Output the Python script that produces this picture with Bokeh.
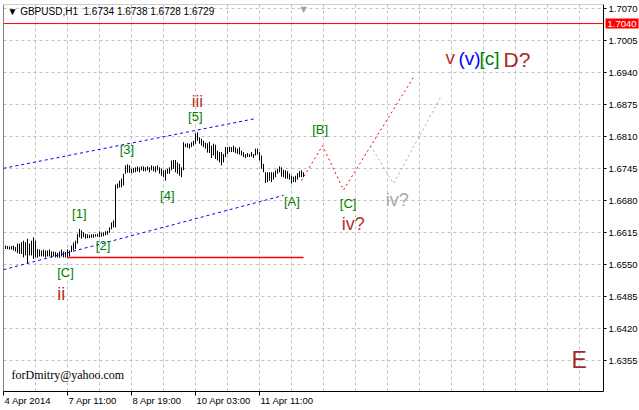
from bokeh.plotting import figure
from bokeh.models import Range1d, FixedTicker, PrintfTickFormatter, Label, Span, ColumnDataSource
from bokeh.embed import file_html
from bokeh.resources import INLINE

# ---------------- data ----------------
title_text = "\u25BC GBPUSD,H1\u00a0 1.6734 1.6738 1.6728 1.6729"

bar_high = [1.6589, 1.6588, 1.6587, 1.6588, 1.6589, 1.6586, 1.6593, 1.6593, 1.6596, 1.6599,
            1.6596, 1.6603, 1.6593, 1.6599, 1.6606, 1.6599, 1.6582, 1.6581, 1.6579, 1.6581,
            1.6579, 1.6579, 1.6581, 1.6577, 1.6577, 1.6576, 1.6574, 1.6577, 1.6581, 1.6577,
            1.6576, 1.6581, 1.6579, 1.6589, 1.6595, 1.6599, 1.6613, 1.6623, 1.6620, 1.6616,
            1.6613, 1.6612, 1.6611, 1.6612, 1.6612, 1.6612, 1.6613, 1.6618, 1.6615, 1.6616,
            1.6618, 1.6619, 1.6626, 1.6636, 1.6640, 1.6713, 1.6715, 1.6721, 1.6725, 1.6735,
            1.6752, 1.6754, 1.6752, 1.6745, 1.6747, 1.6748, 1.6750, 1.6748, 1.6750, 1.6750,
            1.6748, 1.6750, 1.6748, 1.6752, 1.6750, 1.6750, 1.6752, 1.6748, 1.6745, 1.6742,
            1.6743, 1.6745, 1.6748, 1.6762, 1.6763, 1.6763, 1.6758, 1.6755, 1.6748, 1.6799,
            1.6796, 1.6797, 1.6796, 1.6799, 1.6802, 1.6817, 1.6819, 1.6809, 1.6806, 1.6802,
            1.6798, 1.6797, 1.6800, 1.6792, 1.6796, 1.6794, 1.6782, 1.6779, 1.6779, 1.6775,
            1.6789, 1.6789, 1.6790, 1.6789, 1.6792, 1.6789, 1.6786, 1.6789, 1.6782, 1.6779,
            1.6775, 1.6777, 1.6775, 1.6779, 1.6775, 1.6786, 1.6786, 1.6779, 1.6772, 1.6755,
            1.6738, 1.6738, 1.6738, 1.6738, 1.6738, 1.6742, 1.6745, 1.6750, 1.6748, 1.6743,
            1.6742, 1.6740, 1.6735, 1.6731, 1.6729, 1.6731, 1.6736, 1.6740, 1.6742, 1.6738]
bar_low = [1.6582, 1.6582, 1.6581, 1.6581, 1.6579, 1.6577, 1.6574, 1.6572, 1.6572, 1.6565,
           1.6569, 1.6552, 1.6569, 1.6569, 1.6562, 1.6565, 1.6565, 1.6567, 1.6567, 1.6567,
           1.6565, 1.6567, 1.6567, 1.6565, 1.6567, 1.6565, 1.6565, 1.6564, 1.6567, 1.6565,
           1.6565, 1.6565, 1.6567, 1.6576, 1.6579, 1.6582, 1.6593, 1.6606, 1.6603, 1.6606,
           1.6603, 1.6604, 1.6604, 1.6605, 1.6605, 1.6607, 1.6607, 1.6606, 1.6607, 1.6608,
           1.6610, 1.6611, 1.6615, 1.6622, 1.6626, 1.6626, 1.6705, 1.6707, 1.6707, 1.6711,
           1.6735, 1.6737, 1.6737, 1.6736, 1.6737, 1.6738, 1.6740, 1.6738, 1.6742, 1.6740,
           1.6740, 1.6742, 1.6738, 1.6742, 1.6740, 1.6738, 1.6742, 1.6735, 1.6731, 1.6728,
           1.6721, 1.6735, 1.6735, 1.6742, 1.6745, 1.6738, 1.6735, 1.6731, 1.6728, 1.6742,
           1.6789, 1.6788, 1.6786, 1.6789, 1.6792, 1.6796, 1.6802, 1.6796, 1.6792, 1.6789,
           1.6786, 1.6778, 1.6777, 1.6767, 1.6772, 1.6765, 1.6762, 1.6758, 1.6752, 1.6758,
           1.6769, 1.6775, 1.6779, 1.6779, 1.6779, 1.6777, 1.6775, 1.6774, 1.6772, 1.6769,
           1.6767, 1.6769, 1.6769, 1.6770, 1.6767, 1.6772, 1.6774, 1.6762, 1.6745, 1.6738,
           1.6716, 1.6718, 1.6721, 1.6718, 1.6723, 1.6728, 1.6735, 1.6738, 1.6729, 1.6728,
           1.6725, 1.6725, 1.6723, 1.6715, 1.6718, 1.6718, 1.6723, 1.6728, 1.6728, 1.6728]
bar_index = list(range(len(bar_high)))

price_ticks = [1.6355, 1.6420, 1.6485, 1.6550, 1.6615, 1.6680,
               1.6745, 1.6810, 1.6875, 1.6940, 1.7005, 1.7070]
date_tick_bars = [-1, 31, 63, 95, 127]
date_tick_labels = ["4 Apr 2014", "7 Apr 11:00", "8 Apr 19:00", "10 Apr 03:00", "11 Apr 11:00"]
grid_bars = [15, 31, 47, 63, 79, 95, 111, 127, 143, 159, 175, 191, 207, 223, 239, 255, 271, 287]

ask_level = 1.7040
support_bars = [31, 149]
support_prices = [1.6565, 1.6565]
upper_channel_bars = [-1, 125]
upper_channel_prices = [1.6746, 1.6847]
lower_channel_bars = [-1, 139]
lower_channel_prices = [1.6540, 1.6691]
main_path_bars = [148, 158.5, 169, 204]
main_path_prices = [1.6721, 1.6792, 1.6702, 1.6931]
alt_path_bars = [182.5, 194, 217.5]
alt_path_prices = [1.6792, 1.6715, 1.6890]

GREEN = "#008000"
WRED = "#b5312b"
DRED = "#a52a2a"
GRAY = "#a9a9a9"
BLUE = "#0000ff"

# (text, bar, price, colour, size, align, baseline)
wave_labels = [
    ("[C]", 30, 1.6535, GREEN, "13px", "center", "middle"),
    ("ii", 27.9, 1.6490, WRED, "18px", "center", "middle"),
    ("[1]", 36.9, 1.6654, GREEN, "13px", "center", "middle"),
    ("[2]", 48.8, 1.6589, GREEN, "13px", "center", "middle"),
    ("[3]", 60.7, 1.6784, GREEN, "13px", "center", "middle"),
    ("[4]", 80.9, 1.6691, GREEN, "13px", "center", "middle"),
    ("[5]", 94.9, 1.6851, GREEN, "13px", "center", "middle"),
    ("iii", 95.9, 1.6882, WRED, "17px", "center", "middle"),
    ("[A]", 143.2, 1.6678, GREEN, "13px", "center", "middle"),
    ("[B]", 157.3, 1.6825, GREEN, "13px", "center", "middle"),
    ("[C]", 171.3, 1.6674, GREEN, "13px", "center", "middle"),
    ("iv?", 173.9, 1.6633, WRED, "18px", "center", "middle"),
    ("iv?", 195.9, 1.6682, GRAY, "18px", "center", "middle"),
    ("v", 220, 1.6971, WRED, "19px", "left", "alphabetic"),
    ("(v)", 226.5, 1.6969, BLUE, "19px", "left", "alphabetic"),
    ("[c]", 237, 1.6969, GREEN, "19px", "left", "alphabetic"),
    ("D?", 249, 1.6967, DRED, "21px", "left", "alphabetic"),
    ("E", 283, 1.6356, DRED, "23px", "left", "alphabetic"),
]

FONT = "Liberation Sans"
UI_SIZE = "9.5px"

# ---------------- layout ----------------
FRAME_W, FRAME_H = 600, 387
X0, X1 = -1.0, -1.0 + FRAME_W / 2.0      # 2 px per hourly bar
Y0, Y1 = 1.629264, 1.707874
PX_PER_PRICE = FRAME_H / (Y1 - Y0)

p = figure(frame_width=FRAME_W, frame_height=FRAME_H,
           x_range=Range1d(X0, X1), y_range=Range1d(Y0, Y1),
           y_axis_location="right", output_backend="svg", toolbar_location=None,
           min_border_left=3, min_border_top=4, min_border_right=36, min_border_bottom=19)
p.background_fill_color = "white"
p.border_fill_color = "white"
p.outline_line_color = None

yax = p.yaxis[0]
yax.ticker = FixedTicker(ticks=price_ticks)
yax.formatter = PrintfTickFormatter(format="%.4f")
yax.axis_line_color = "black"
yax.major_tick_line_color = "black"
yax.major_tick_out = 3
yax.major_tick_in = 0
yax.minor_tick_out = 0
yax.minor_tick_in = 0
yax.major_label_standoff = 2
yax.major_label_text_font = FONT
yax.major_label_text_font_size = UI_SIZE
yax.major_label_text_color = "black"

xax = p.xaxis[0]
xax.ticker = FixedTicker(ticks=date_tick_bars)
xax.axis_line_color = "black"
xax.major_tick_line_color = "black"
xax.major_tick_out = 4
xax.major_tick_in = 0
xax.minor_tick_out = 0
xax.minor_tick_in = 0
xax.major_label_overrides = {k: "" for k in date_tick_bars}

p.xgrid.ticker = FixedTicker(ticks=grid_bars)
p.ygrid.ticker = FixedTicker(ticks=price_ticks)
for g in (p.xgrid, p.ygrid):
    g.grid_line_color = "#c0c0c0"
    g.grid_line_dash = "3 3"
    g.grid_line_width = 1

# frame edges
p.add_layout(Span(location=X0, dimension="height", line_color="black", line_width=1))
p.add_layout(Span(location=Y1, dimension="width", line_color="#a0a0a0", line_width=1))

# ask level line
p.add_layout(Span(location=ask_level, dimension="width", line_color="#ff0000", line_width=1))

# bars
src = ColumnDataSource(dict(k=bar_index, high=bar_high, low=bar_low))
p.segment(x0="k", y0="low", x1="k", y1="high", source=src, line_color="black", line_width=1)

# channel and lines
p.line(upper_channel_bars, upper_channel_prices, line_color=BLUE, line_dash="3 3", line_width=1)
p.line(lower_channel_bars, lower_channel_prices, line_color=BLUE, line_dash="3 3", line_width=1)
p.line(support_bars, support_prices, line_color="#ff0000", line_width=1.5)
p.line(main_path_bars, main_path_prices, line_color="#ff0000", line_dash="2 3", line_width=1)
p.line(alt_path_bars, alt_path_prices, line_color=GRAY, line_dash="2 3", line_width=1)

# wave labels
for t, k, pr, c, s, a, b in wave_labels:
    p.add_layout(Label(x=k, y=pr, text=t, text_color=c, text_font=FONT, text_font_size=s,
                       text_align=a, text_baseline=b))

# title / info
p.add_layout(Label(x=X0, y=1.70651, text=title_text, text_font=FONT, text_font_size="10px",
                   text_color="black", text_align="left", text_baseline="middle", x_offset=4))
p.add_layout(Label(x=149, y=Y1, text="\u25BC", text_font="DejaVu Sans", text_font_size="8px",
                   text_color="#a0a0a0", text_align="center", text_baseline="top"))
p.add_layout(Label(x=3, y=1.63262, text="forDmitry@yahoo.com", text_font="Liberation Serif",
                   text_font_size="12px", text_color="black", text_align="left", text_baseline="middle"))

# date labels in the bottom panel (side-panel annotations are not clipped to the frame)
date_y = Y0 - 9.0 / PX_PER_PRICE
for k, t in zip(date_tick_bars, date_tick_labels):
    p.add_layout(Label(x=k, y=date_y, text=t, text_font=FONT, text_font_size=UI_SIZE,
                       text_color="black", text_align="left", text_baseline="middle", x_offset=1),
                 "below")

# current price box on the price axis
p.add_layout(Label(x=X1 + 1, y=ask_level, text="1.7040", text_font=FONT, text_font_size=UI_SIZE,
                   text_color="white", text_align="left", text_baseline="middle",
                   background_fill_color="#ff0000", padding=2), "right")

open("out.html", "w").write(file_html(p, INLINE))
